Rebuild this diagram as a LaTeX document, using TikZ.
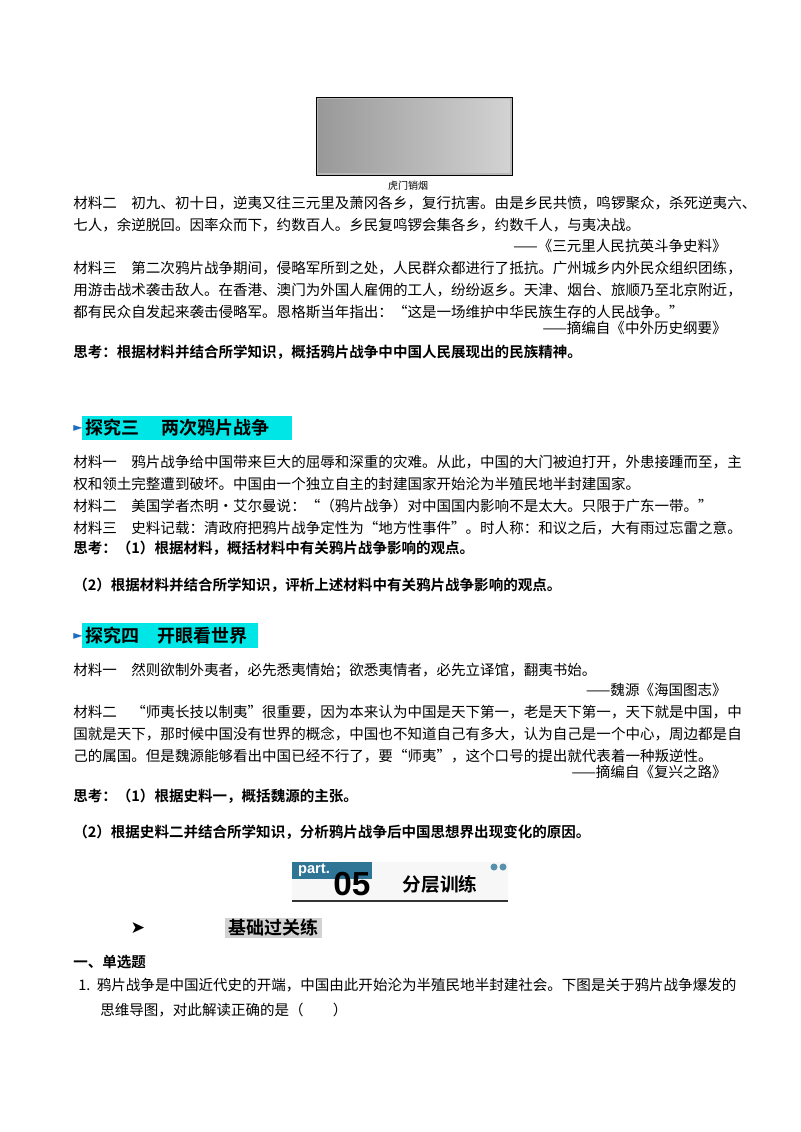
\documentclass[tikz,border=0pt]{standalone}
\usepackage{fontspec}
\usetikzlibrary{calc}
\setmainfont{Noto Sans CJK SC}[BoldFont={Noto Sans CJK SC Bold}]
\newfontfamily\latinsans{Liberation Sans}[BoldFont={Liberation Sans Bold}]
\newfontfamily\arrowfont{DejaVu Sans}
\definecolor{headcyan}{RGB}{0,230,230}
\definecolor{partteal}{RGB}{46,117,150}
\definecolor{tipblue}{RGB}{30,110,190}
\tikzset{
  txt/.style={anchor=west, inner sep=0pt, font=\fontsize{10.9}{13}\selectfont},
  rtxt/.style={anchor=east, inner sep=0pt, font=\fontsize{10.9}{13}\selectfont\itshape},
  btxt/.style={txt, font=\fontsize{10.9}{13}\selectfont\bfseries},
  head/.style={anchor=west, inner sep=0pt, font=\fontsize{13.5}{15}\selectfont\bfseries}
}
\begin{document}
\begin{tikzpicture}[x=0.75pt, y=-0.75pt]
		\useasboundingbox[fill=white] (0,0) rectangle (800,1132);

		% picture
		\node[draw=black, fill=gray!55, minimum width=147pt, minimum height=58.5pt, inner sep=0pt] (photo) at (414,136) {};
		\shade[left color=gray!80, right color=gray!35] ($(photo.north west)+(2pt,-2pt)$) rectangle ($(photo.south east)+(-2pt,2pt)$);
		\node[inner sep=0pt, font=\fontsize{7.5}{9}\selectfont] (caption) at (408,186) {虎门销烟};

		% material block one
		\node[txt] (m2a) at (73,203) {材料二　初九、初十日，逆夷又往三元里及萧冈各乡，复行抗害。由是乡民共愤，鸣锣聚众，杀死逆夷六、};
		\node[txt] (m2b) at (73,225) {七人，余逆脱回。因率众而下，约数百人。乡民复鸣锣会集各乡，约数千人，与夷决战。};
		\node[rtxt] (m2src) at (727,246) {——《三元里人民抗英斗争史料》};
		\node[txt] (m3a) at (73,268) {材料三　第二次鸦片战争期间，侵略军所到之处，人民群众都进行了抵抗。广州城乡内外民众组织团练，};
		\node[txt] (m3b) at (73,290) {用游击战术袭击敌人。在香港、澳门为外国人雇佣的工人，纷纷返乡。天津、烟台、旅顺乃至北京附近，};
		\node[txt] (m3c) at (73,312) {都有民众自发起来袭击侵略军。恩格斯当年指出：“这是一场维护中华民族生存的人民战争。”};
		\node[rtxt] (m3src) at (727,328) {——摘编自《中外历史纲要》};
		\node[btxt] (think1) at (73,352) {思考：根据材料并结合所学知识，概括鸦片战争中中国人民展现出的民族精神。};

		% section three
		\fill[headcyan] (82,416) rectangle (292,440);
		\node[anchor=west, inner sep=0pt, text=tipblue, font=\arrowfont\fontsize{9}{10}\selectfont] (tip3) at (73,428) {►};
		\node[head] (head3) at (85,428) {探究三　 两次鸦片战争};
		\node[txt] (s3a) at (73,462) {材料一　鸦片战争给中国带来巨大的屈辱和深重的灾难。从此，中国的大门被迫打开，外患接踵而至，主};
		\node[txt] (s3b) at (73,484) {权和领土完整遭到破坏。中国由一个独立自主的封建国家开始沦为半殖民地半封建国家。};
		\node[txt] (s3c) at (73,506) {材料二　美国学者杰明·艾尔曼说：“（鸦片战争）对中国国内影响不是太大。只限于广东一带。”};
		\node[txt] (s3d) at (73,528) {材料三　史料记载：清政府把鸦片战争定性为“地方性事件”。时人称：和议之后，大有雨过忘雷之意。};
		\node[btxt] (think3a) at (73,548) {思考：（1）根据材料，概括材料中有关鸦片战争影响的观点。};
		\node[btxt] (think3b) at (73,585) {（2）根据材料并结合所学知识，评析上述材料中有关鸦片战争影响的观点。};

		% section four
		\fill[headcyan] (82,623) rectangle (258,648);
		\node[anchor=west, inner sep=0pt, text=tipblue, font=\arrowfont\fontsize{9}{10}\selectfont] (tip4) at (73,636) {►};
		\node[head] (head4) at (85,636) {探究四　开眼看世界};
		\node[txt] (s4a) at (73,670) {材料一　然则欲制外夷者，必先悉夷情始；欲悉夷情者，必先立译馆，翻夷书始。};
		\node[rtxt] (s4src1) at (727,690) {——魏源《海国图志》};
		\node[txt] (s4b) at (73,712) {材料二　“师夷长技以制夷”很重要，因为本来认为中国是天下第一，老是天下第一，天下就是中国，中};
		\node[txt] (s4c) at (73,734) {国就是天下，那时候中国没有世界的概念，中国也不知道自己有多大，认为自己是一个中心，周边都是自};
		\node[txt] (s4d) at (73,756) {己的属国。但是魏源能够看出中国已经不行了，要“师夷”，这个口号的提出就代表着一种叛逆性。};
		\node[rtxt] (s4src2) at (727,772) {——摘编自《复兴之路》};
		\node[btxt] (think4a) at (73,796) {思考：（1）根据史料一，概括魏源的主张。};
		\node[btxt] (think4b) at (73,832) {（2）根据史料二并结合所学知识，分析鸦片战争后中国思想界出现变化的原因。};

		% part banner
		\fill[gray!6] (292,862) rectangle (508,900);
		\fill[partteal] (292,862) rectangle (372,879);
		\node[inner sep=0pt, text=white, font=\latinsans\bfseries\fontsize{11}{12}\selectfont] (parttag) at (314,870) {part.};
		\node[inner sep=0pt, font=\latinsans\bfseries\fontsize{25}{27}\selectfont] (partnum) at (352,884) {05};
		\node[inner sep=0pt, font=\bfseries\fontsize{14}{16}\selectfont] (parttitle) at (440,884) {分层训练};
		\fill[partteal!80] (494,867) circle (3.5) (503,867) circle (3.5);
		\draw[line width=1.6pt, black!80] (292,901) -- (508,901);

		% basic practice
		\fill[gray!35] (225,918) rectangle (322,938);
		\node[inner sep=0pt, font=\arrowfont\bfseries\fontsize{13}{14}\selectfont] (tip5) at (138,928) {➤};
		\node[inner sep=0pt, font=\bfseries\fontsize{13.5}{15}\selectfont] (basic) at (273,928) {基础过关练};

		\node[btxt] (sec1) at (73,962) {一、单选题};
		\node[txt] (q1a) at (78,985) {1.\ \ 鸦片战争是中国近代史的开端，中国由此开始沦为半殖民地半封建社会。下图是关于鸦片战争爆发的};
		\node[txt] (q1b) at (100,1010) {思维导图，对此解读正确的是（　　）};
	\end{tikzpicture}
\end{document}
